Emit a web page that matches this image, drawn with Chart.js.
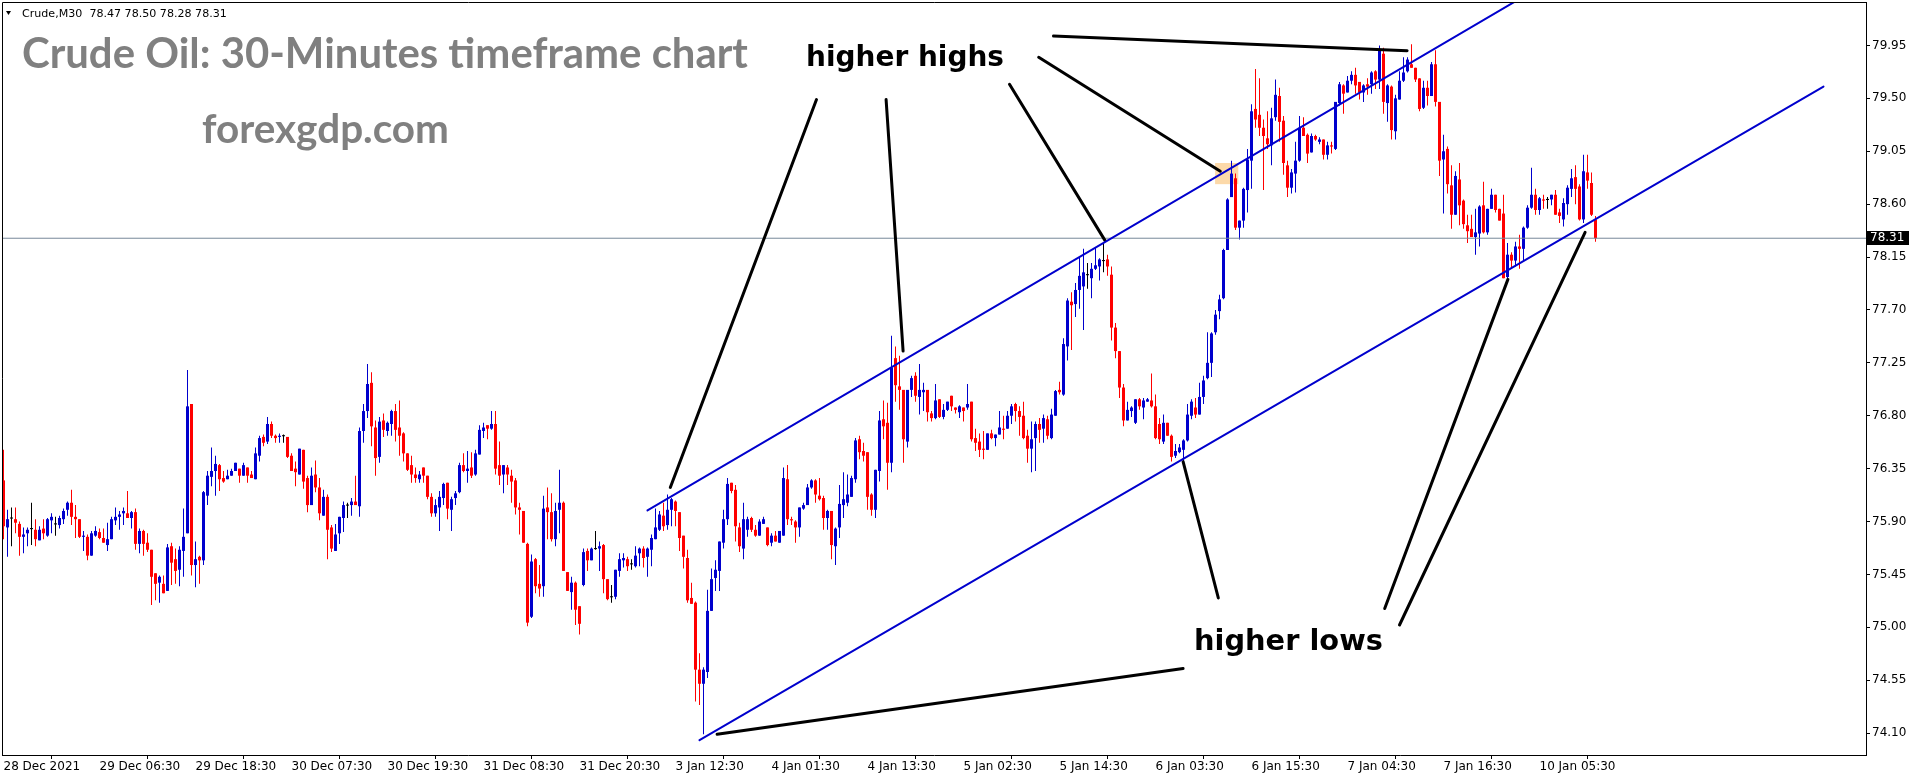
<!DOCTYPE html>
<html><head><meta charset="utf-8">
<script src="https://cdn.jsdelivr.net/npm/chart.js@4.4.1/dist/chart.umd.min.js"></script>
<style>html,body{margin:0;padding:0;background:#fff;overflow:hidden}canvas{display:block}</style>
</head><body>
<canvas id="c" width="1916" height="780" style="width:1916px;height:780px"></canvas>
<script>
const symbolTitle = 'Crude,M30';
const openP = [76.25,75.85,75.93,75.92,75.88,75.77,75.80,75.84,75.83,75.74,75.84,75.78,75.91,75.88,75.87,75.92,76.00,76.06,75.94,75.92,
75.77,75.77,75.61,75.78,75.81,75.76,75.70,75.75,75.91,75.94,75.97,75.97,75.93,75.98,75.71,75.82,75.72,75.66,75.46,75.38,
75.37,75.31,75.69,75.58,75.49,75.65,75.80,76.90,75.53,75.60,75.57,76.12,76.28,76.33,76.38,76.27,76.26,76.29,76.33,76.35,
76.29,76.36,76.30,76.26,76.46,76.62,76.58,76.73,76.63,76.62,76.63,76.62,76.46,76.35,76.30,76.51,76.27,76.04,76.30,76.19,
75.95,76.11,75.85,75.65,75.80,75.93,76.04,76.04,76.07,76.03,76.67,76.84,77.08,76.70,76.45,76.76,76.67,76.73,76.84,76.70,
76.65,76.48,76.38,76.30,76.26,76.36,76.29,76.11,75.97,76.02,76.10,76.23,76.00,76.10,76.15,76.38,76.33,76.36,76.30,76.47,
76.67,76.72,76.69,76.73,76.38,76.30,76.36,76.29,76.25,76.02,75.99,75.71,75.09,75.58,75.37,75.35,76.02,75.98,75.75,76.00,
76.06,75.47,75.30,75.38,75.18,75.36,75.65,75.57,75.67,75.67,75.70,75.41,75.26,75.26,75.48,75.57,75.58,75.54,75.52,75.63,
75.67,75.60,75.66,75.75,75.83,75.95,75.87,76.00,76.07,75.98,75.78,75.59,75.25,75.21,74.64,74.52,74.62,75.14,75.42,75.48,
75.72,75.92,76.23,76.17,75.85,75.67,75.83,75.93,75.83,75.78,75.88,75.85,75.72,75.78,75.72,75.78,76.26,75.92,75.90,75.85,
76.01,76.04,76.19,76.25,76.12,76.10,75.93,75.99,75.69,75.85,76.04,76.06,76.11,76.26,76.60,76.50,76.49,76.13,76.00,76.33,
76.77,76.74,76.40,77.29,77.05,77.02,76.58,77.02,77.14,76.96,77.00,77.02,76.82,76.78,76.94,76.79,76.85,76.97,76.87,76.83,
76.87,76.87,76.92,76.61,76.58,76.52,76.51,76.65,76.61,76.64,76.69,76.69,76.80,76.90,76.84,76.80,76.63,76.52,76.61,76.73,
76.69,76.77,76.61,76.80,77.02,76.98,77.39,77.77,77.75,77.87,77.90,78.00,77.97,78.05,78.07,78.12,78.13,78.00,77.55,77.35,
77.04,76.76,76.84,76.74,76.94,76.87,76.92,76.93,76.88,76.73,76.58,76.74,76.63,76.46,76.49,76.51,76.59,76.80,76.87,76.81,
76.96,77.12,77.25,77.51,77.69,77.80,78.21,78.66,78.82,78.40,78.46,78.72,78.97,79.41,79.36,79.25,79.16,79.10,79.34,79.52,
79.31,78.93,78.74,78.86,78.97,79.25,79.19,79.04,79.18,79.13,79.15,79.02,79.10,79.07,79.46,79.61,79.55,79.65,79.70,79.64,
79.55,79.62,79.62,79.73,79.66,79.88,79.46,79.60,79.22,79.49,79.65,79.73,79.79,79.76,79.67,79.42,79.59,79.52,79.79,79.47,
78.98,79.07,78.76,78.51,78.81,78.63,78.42,78.39,78.32,78.35,78.59,78.36,78.56,78.68,78.56,78.52,77.98,78.17,78.12,78.24,
78.22,78.40,78.57,78.68,78.55,78.64,78.64,78.64,78.68,78.53,78.47,78.60,78.73,78.83,78.75,78.47,78.87,78.78,78.47];
const highP = [76.51,76.00,76.02,76.02,75.90,75.85,75.85,76.06,75.92,75.86,75.92,75.93,75.97,75.94,75.95,76.01,76.07,76.17,76.04,75.92,
75.82,75.79,75.82,75.86,75.84,75.84,75.89,75.94,76.02,75.99,76.02,76.16,75.99,76.01,75.84,75.83,75.80,75.66,75.46,75.44,
75.44,75.71,75.72,75.67,75.69,76.01,77.19,76.90,75.73,75.61,76.16,76.33,76.53,76.46,76.39,76.33,76.34,76.35,76.40,76.35,
76.40,76.36,76.33,76.53,76.63,76.64,76.79,76.75,76.64,76.65,76.64,76.62,76.48,76.41,76.52,76.51,76.29,76.36,76.42,76.27,
76.17,76.13,75.87,75.88,75.94,76.07,76.06,76.10,76.29,76.70,76.90,77.24,77.17,76.76,76.79,76.82,76.75,76.85,76.90,76.93,
76.66,76.48,76.46,76.36,76.33,76.36,76.29,76.14,76.09,76.16,76.23,76.23,76.11,76.16,76.40,76.48,76.50,76.49,76.51,76.72,
76.74,76.72,76.84,76.84,76.58,76.38,76.38,76.34,76.27,76.06,75.99,75.72,75.62,75.59,75.53,76.12,76.19,76.14,76.06,76.34,
76.07,75.47,75.43,75.39,75.18,75.67,75.67,75.68,75.82,75.73,75.71,75.41,75.36,75.49,75.63,75.63,75.60,75.58,75.69,75.68,
75.69,75.68,75.79,76.01,75.99,76.06,76.13,76.10,76.08,75.98,75.78,75.66,75.38,75.22,74.78,74.66,75.32,75.50,75.57,75.73,
76.00,76.27,76.23,76.21,75.89,76.06,75.94,75.94,75.87,75.92,75.94,75.85,75.80,75.82,75.82,76.36,76.38,75.94,75.91,76.02,
76.06,76.22,76.26,76.26,76.27,76.12,76.00,75.99,75.85,76.21,76.32,76.30,76.29,76.61,76.63,76.57,76.49,76.14,76.34,76.84,
76.93,76.91,77.48,77.39,77.31,77.02,77.02,77.14,77.17,77.24,77.08,77.02,76.84,77.07,76.94,76.90,76.92,76.97,76.87,76.89,
76.87,77.07,76.92,76.69,76.65,76.67,76.65,76.68,76.64,76.84,76.80,76.84,76.90,76.91,76.88,76.92,76.68,76.75,76.75,76.78,
76.81,76.80,76.86,77.02,77.09,77.46,77.80,77.85,77.93,78.16,78.22,78.10,78.10,78.23,78.14,78.27,78.17,78.07,77.59,77.35,
77.07,76.92,76.88,76.94,76.95,76.95,76.95,77.16,76.98,76.78,76.81,76.74,76.64,76.56,76.56,76.60,76.90,76.94,76.95,77.08,
77.14,77.51,77.51,77.70,77.83,78.22,78.65,78.97,78.86,78.46,78.74,79.07,79.45,79.75,79.67,79.32,79.39,79.42,79.66,79.59,
79.35,78.97,78.90,79.13,79.35,79.34,79.20,79.20,79.19,79.17,79.15,79.13,79.13,79.47,79.64,79.62,79.69,79.73,79.76,79.64,
79.62,79.67,79.73,79.74,79.95,79.93,79.62,79.61,79.53,79.73,79.85,79.85,79.96,79.76,79.67,79.65,79.65,79.81,79.91,79.47,
79.19,79.09,78.93,78.88,78.95,78.64,78.51,78.51,78.56,78.59,78.79,78.56,78.73,78.68,78.56,78.68,78.27,78.19,78.28,78.34,
78.41,78.59,78.91,78.73,78.66,78.68,78.66,78.68,78.72,78.56,78.65,78.76,78.90,78.93,78.77,79.02,79.02,78.87,78.50];
const lowP = [75.75,75.60,75.69,75.80,75.61,75.63,75.69,75.70,75.69,75.74,75.75,75.77,75.80,75.78,75.84,75.88,75.95,75.87,75.76,75.76,
75.65,75.57,75.61,75.77,75.75,75.72,75.65,75.75,75.87,75.83,75.87,75.93,75.84,75.66,75.63,75.61,75.64,75.19,75.23,75.21,
75.29,75.31,75.36,75.37,75.35,75.43,75.80,75.44,75.34,75.37,75.53,76.04,76.20,76.12,76.16,76.23,76.26,76.29,76.33,76.23,
76.29,76.23,76.27,76.26,76.41,76.54,76.56,76.61,76.57,76.57,76.57,76.44,76.33,76.20,76.30,76.18,75.98,76.04,76.15,75.91,
75.95,75.58,75.64,75.65,75.71,75.81,75.93,75.95,76.04,75.94,76.57,76.78,76.54,76.29,76.40,76.62,76.63,76.63,76.58,76.46,
76.41,76.33,76.23,76.23,76.23,76.23,76.09,75.94,75.94,75.82,76.04,75.92,75.82,76.04,76.14,76.32,76.23,76.27,76.29,76.47,
76.61,76.60,76.68,76.30,76.21,76.14,76.21,76.06,75.96,75.79,75.72,75.01,75.08,75.29,75.26,75.26,75.75,75.73,75.69,75.80,
75.48,75.31,75.15,75.02,74.94,75.35,75.48,75.57,75.66,75.48,75.29,75.23,75.21,75.24,75.43,75.51,75.48,75.49,75.51,75.52,
75.51,75.43,75.52,75.75,75.82,75.82,75.83,75.86,75.86,75.65,75.50,75.21,75.20,74.37,74.34,74.09,74.57,75.14,75.31,75.31,
75.67,75.87,76.14,75.73,75.64,75.58,75.77,75.81,75.77,75.78,75.88,75.69,75.69,75.73,75.72,75.78,75.87,75.87,75.72,75.77,
76.00,76.04,76.18,76.06,76.08,75.83,75.83,75.58,75.53,75.76,75.93,76.03,76.11,76.23,76.43,76.41,76.00,75.95,75.93,76.24,
76.60,76.17,76.32,76.92,76.85,76.40,76.53,76.96,76.92,76.81,76.84,76.75,76.75,76.77,76.78,76.77,76.84,76.84,76.82,76.78,
76.75,76.85,76.58,76.50,76.45,76.43,76.51,76.60,76.54,76.64,76.60,76.69,76.73,76.75,76.63,76.60,76.40,76.32,76.33,76.57,
76.57,76.60,76.60,76.80,76.98,76.97,77.27,77.36,77.64,77.71,77.53,77.88,77.80,78.04,77.95,78.02,77.99,77.44,77.29,76.95,
76.71,76.76,76.79,76.73,76.85,76.77,76.92,76.87,76.60,76.56,76.56,76.63,76.41,76.44,76.48,76.38,76.58,76.77,76.78,76.81,
76.90,77.11,77.13,77.49,77.62,77.79,78.21,78.66,78.38,78.30,78.40,78.53,78.73,79.25,79.18,78.72,79.07,78.93,79.31,79.13,
78.85,78.66,78.69,78.70,78.96,79.18,78.95,79.04,79.14,79.11,78.98,78.98,79.03,79.06,79.44,79.37,79.55,79.62,79.54,79.49,
79.47,79.53,79.54,79.58,79.58,79.37,79.30,79.15,79.15,79.49,79.64,79.72,79.76,79.64,79.39,79.41,79.44,79.52,79.43,78.84,
78.52,78.69,78.39,78.51,78.42,78.39,78.27,78.32,78.17,78.24,78.35,78.34,78.56,78.53,78.46,77.97,77.97,78.05,78.07,78.05,
78.12,78.39,78.56,78.51,78.51,78.56,78.56,78.59,78.51,78.44,78.41,78.51,78.66,78.60,78.46,78.44,78.73,78.50,78.28];
const closeP = [75.86,75.92,75.93,75.89,75.77,75.79,75.83,75.84,75.75,75.83,75.80,75.92,75.94,75.88,75.93,75.99,76.06,75.94,75.92,75.77,
75.78,75.61,75.80,75.82,75.76,75.72,75.75,75.92,75.94,75.96,75.99,75.93,75.98,75.71,75.82,75.71,75.66,75.43,75.37,75.43,
75.29,75.68,75.55,75.48,75.66,75.77,76.88,75.53,75.58,75.57,76.15,76.29,76.33,76.39,76.26,76.24,76.29,76.33,76.40,76.29,
76.38,76.29,76.27,76.48,76.61,76.57,76.73,76.63,76.61,76.63,76.63,76.45,76.33,76.32,76.52,76.24,76.04,76.29,76.19,75.97,
76.11,75.83,75.67,75.79,75.94,76.04,76.04,76.07,76.04,76.67,76.84,77.07,76.71,76.44,76.75,76.68,76.74,76.84,76.68,76.63,
76.48,76.34,76.30,76.27,76.30,76.29,76.11,75.97,76.04,76.11,76.22,76.01,76.09,76.14,76.38,76.33,76.35,76.29,76.48,76.68,
76.70,76.69,76.73,76.35,76.29,76.38,76.30,76.24,76.02,76.00,75.72,75.04,75.56,75.35,75.33,76.01,75.98,75.75,75.99,76.06,
75.48,75.31,75.38,75.15,75.03,75.64,75.57,75.67,75.67,75.69,75.41,75.24,75.26,75.49,75.58,75.59,75.52,75.54,75.61,75.67,
75.59,75.67,75.76,75.85,75.96,75.86,76.00,76.09,75.99,75.76,75.60,75.23,75.20,74.64,74.52,74.64,75.14,75.41,75.49,75.73,
75.92,76.22,76.16,75.86,75.69,75.92,75.92,75.83,75.78,75.90,75.92,75.70,75.78,75.73,75.82,76.27,75.92,75.91,75.85,76.02,
76.04,76.19,76.25,76.13,76.09,75.93,75.99,75.70,75.84,76.05,76.09,76.13,76.27,76.59,76.49,76.46,76.11,76.00,76.34,76.76,
76.71,76.40,77.21,77.06,77.02,76.60,77.02,77.12,76.97,77.02,77.02,76.83,76.78,76.93,76.79,76.85,76.92,76.88,76.85,76.88,
76.84,76.90,76.60,76.57,76.51,76.51,76.65,76.61,76.64,76.70,76.68,76.80,76.88,76.84,76.79,76.61,76.52,76.60,76.73,76.68,
76.78,76.63,76.81,77.01,77.00,77.41,77.78,77.74,77.87,77.99,78.02,78.00,78.05,78.08,78.13,78.12,78.07,77.55,77.35,77.04,
76.76,76.85,76.87,76.94,76.88,76.93,76.94,76.88,76.61,76.60,76.74,76.63,76.45,76.50,76.53,76.59,76.81,76.92,76.81,76.96,
77.10,77.25,77.50,77.66,77.79,78.21,78.64,78.86,78.40,78.46,78.73,78.98,79.39,79.32,79.25,79.18,79.11,79.33,79.53,79.30,
78.95,78.74,78.87,78.97,79.25,79.18,79.03,79.18,79.15,79.15,79.02,79.10,79.09,79.47,79.62,79.54,79.65,79.70,79.61,79.55,
79.61,79.60,79.72,79.66,79.91,79.47,79.61,79.23,79.50,79.65,79.72,79.83,79.76,79.66,79.41,79.59,79.52,79.79,79.47,78.97,
79.05,78.77,78.51,78.84,78.59,78.43,78.37,78.32,78.36,78.58,78.36,78.56,78.68,78.55,78.46,77.97,78.17,78.12,78.24,78.22,
78.40,78.57,78.68,78.55,78.65,78.63,78.64,78.68,78.51,78.50,78.61,78.74,78.82,78.73,78.47,78.88,78.80,78.51,78.31];

// time-axis labels and the bar each one marks
const timeLabels = ['28 Dec 2021','29 Dec 06:30','29 Dec 18:30','30 Dec 07:30','30 Dec 19:30','31 Dec 08:30','31 Dec 20:30',
  '3 Jan 12:30','4 Jan 01:30','4 Jan 13:30','5 Jan 02:30','5 Jan 14:30','6 Jan 03:30','6 Jan 15:30','7 Jan 04:30','7 Jan 16:30','10 Jan 05:30'];
const timeLabelBars = [0,24,48,72,96,120,144,168,192,216,240,264,288,312,336,360,384];
const priceTicks = [74.10,74.55,75.00,75.45,75.90,76.35,76.80,77.25,77.70,78.15,78.60,79.05,79.50,79.95];

// drawn objects, in (bar, price) units
const upperChannel = [[161.0,75.995],[400,80.765]];
const lowerChannel = [[174.0,74.04],[455,79.60]];
const highArrows = [[[203.25,79.49],[166.7,76.19]],[[220.65,79.49],[224.9,77.35]],[[251.5,79.62],[275.4,78.29]],
                    [[258.8,79.85],[304.2,78.88]],[[262.5,80.03],[350.9,79.905]]];
const lowArrows = [[[294.9,74.65],[178.4,74.09]],[[303.7,75.25],[294.9,76.41]],[[345.3,75.16],[376.1,77.96]],[[349.0,75.02],[395.4,78.36]]];
const markBox = [[302.9,78.77],[308.7,78.95]];

const BLUE = '#0000CD', RED = '#FF0000', BLACK = '#000000';
const n = closeP.length;
const candleColors = closeP.map((c,i)=> c>openP[i] ? BLUE : (c<openP[i] ? RED : BLACK));
const wickData = closeP.map((c,i)=>({x:i, y:[lowP[i], highP[i]]}));
const bodyData = closeP.map((c,i)=>{
  let a=Math.min(openP[i],c), b=Math.max(openP[i],c);
  if (b-a<0.008){ const m=(a+b)/2; a=m-0.0045; b=m+0.0045; }
  return {x:i, y:[a,b]};
});
const lastClose = closeP[n-1];

const lineDs = (pts, color, w) => ({type:'line', data: pts.map(p=>({x:p[0], y:p[1]})), borderColor: color, borderWidth: w,
  pointRadius:0, pointHoverRadius:0, fill:false, tension:0, clip:0, order:-1, borderCapStyle:'round'});

const datasets = [
  {type:'bar', label:'wick', data: wickData, backgroundColor: candleColors, grouped:false, categoryPercentage:1, barPercentage:1, maxBarThickness:1, inflateAmount:0, borderWidth:0, order:3},
  {type:'bar', label:'body', data: bodyData, backgroundColor: candleColors, grouped:false, categoryPercentage:1, barPercentage:1, maxBarThickness:3, inflateAmount:0, borderWidth:0, order:2},
  Object.assign(lineDs([[-0.375,lastClose],[465.625,lastClose]], '#778899', 1), {order:1, borderCapStyle:'butt'}),
  lineDs(upperChannel, '#0000CD', 2),
  lineDs(lowerChannel, '#0000CD', 2),
  ...highArrows.map(a=>lineDs(a, '#000', 3)),
  ...lowArrows.map(a=>lineDs(a, '#000', 3)),
];

const AXFONT = {family:'DejaVu Sans', size:12};
function zeroPad(ax){ ax.paddingTop=0; ax.paddingBottom=0; ax.paddingLeft=0; ax.paddingRight=0; }

function fitFont(ctx, text, weight, family, targetW){
  ctx.font = weight+' 100px "'+family+'"';
  const w = ctx.measureText(text).width;
  return weight+' '+(100*targetW/w).toFixed(2)+'px "'+family+'"';
}

const decor = {
  id:'decor',
  beforeDatasetsDraw(chart){
    const ctx=chart.ctx, xs=chart.scales.x, ys=chart.scales.y;
    const x0=xs.getPixelForValue(markBox[0][0]), x1=xs.getPixelForValue(markBox[1][0]);
    const y0=ys.getPixelForValue(markBox[1][1]), y1=ys.getPixelForValue(markBox[0][1]);
    ctx.save(); ctx.fillStyle='#FCD9A9'; ctx.fillRect(x0,y0,x1-x0,y1-y0); ctx.restore();
  },
  afterDraw(chart){
    const ctx=chart.ctx, a=chart.chartArea, ys=chart.scales.y;
    ctx.save();
    // frame (left & top)
    ctx.strokeStyle='#000'; ctx.lineWidth=1;
    ctx.beginPath(); ctx.moveTo(a.left+0.5, a.bottom); ctx.lineTo(a.left+0.5, a.top+0.5); ctx.lineTo(a.right, a.top+0.5); ctx.stroke();
    // header
    ctx.fillStyle='#000'; ctx.textBaseline='alphabetic'; ctx.textAlign='left';
    ctx.beginPath(); ctx.moveTo(6,11); ctx.lineTo(11,11); ctx.lineTo(8.5,15); ctx.closePath(); ctx.fill();
    const hdr = symbolTitle+'  '+[openP[n-1],highP[n-1],lowP[n-1],closeP[n-1]].map(v=>v.toFixed(2)).join(' ');
    ctx.font = fitFont(ctx, hdr, 'normal', 'DejaVu Sans', 205);
    ctx.fillText(hdr, 22, 17);
    // titles
    ctx.fillStyle='#808080';
    let t='Crude Oil: 30-Minutes timeframe chart';
    ctx.font = fitFont(ctx, t, 'bold', 'Lato', 726); ctx.fillText(t, 22, 68);
    t='forexgdp.com';
    ctx.font = fitFont(ctx, t, 'bold', 'Lato', 247); ctx.fillText(t, 202, 143);
    ctx.fillStyle='#000';
    t='higher highs';
    ctx.font = fitFont(ctx, t, 'bold', 'DejaVu Sans', 198); ctx.fillText(t, 806, 66);
    t='higher lows';
    ctx.font = fitFont(ctx, t, 'bold', 'DejaVu Sans', 189); ctx.fillText(t, 1194, 650);
    // current price tag
    const py = Math.round(ys.getPixelForValue(lastClose));
    ctx.fillStyle='#000'; ctx.fillRect(a.right+1, py-7, 42, 14);
    ctx.fillStyle='#fff'; ctx.font='12px "DejaVu Sans"'; ctx.textBaseline='middle';
    ctx.fillText(lastClose.toFixed(2), a.right+4, py);
    ctx.restore();
  }
};

new Chart(document.getElementById('c'), {
  type:'bar',
  data:{ datasets },
  options:{
    responsive:false, animation:false, devicePixelRatio:1,
    layout:{ padding:{left:2, top:2, right:0, bottom:0}, autoPadding:false },
    plugins:{ legend:{display:false}, tooltip:{enabled:false} },
    events:[],
    scales:{
      x:{ type:'linear', position:'bottom', min:-0.375, max:465.625, bounds:'data', offset:false,
          afterBuildTicks: ax => { ax.ticks = timeLabelBars.map(v=>({value:v})); },
          afterFit: ax => { ax.height = 25; zeroPad(ax); },
          grid:{ display:true, drawOnChartArea:false, drawTicks:true, tickLength:4, color:'#000', lineWidth:1 },
          border:{ display:true, color:'#000', width:1 },
          ticks:{ autoSkip:false, maxRotation:0, minRotation:0, align:'start', padding:1, color:'#000', font:AXFONT,
                  callback:(v,i)=> timeLabels[i] } },
      y:{ type:'linear', position:'right', min:73.914, max:80.3197, bounds:'data',
          afterBuildTicks: ax => { ax.ticks = priceTicks.map(v=>({value:v})); },
          afterFit: ax => { ax.width = 50; zeroPad(ax); },
          grid:{ display:true, drawOnChartArea:false, drawTicks:true, tickLength:4, color:'#000', lineWidth:1 },
          border:{ display:true, color:'#000', width:1 },
          ticks:{ autoSkip:false, padding:2, color:'#000', font:AXFONT, callback:(v,i)=> priceTicks[i].toFixed(2) } }
    }
  },
  plugins:[decor]
});
</script>
</body></html>
